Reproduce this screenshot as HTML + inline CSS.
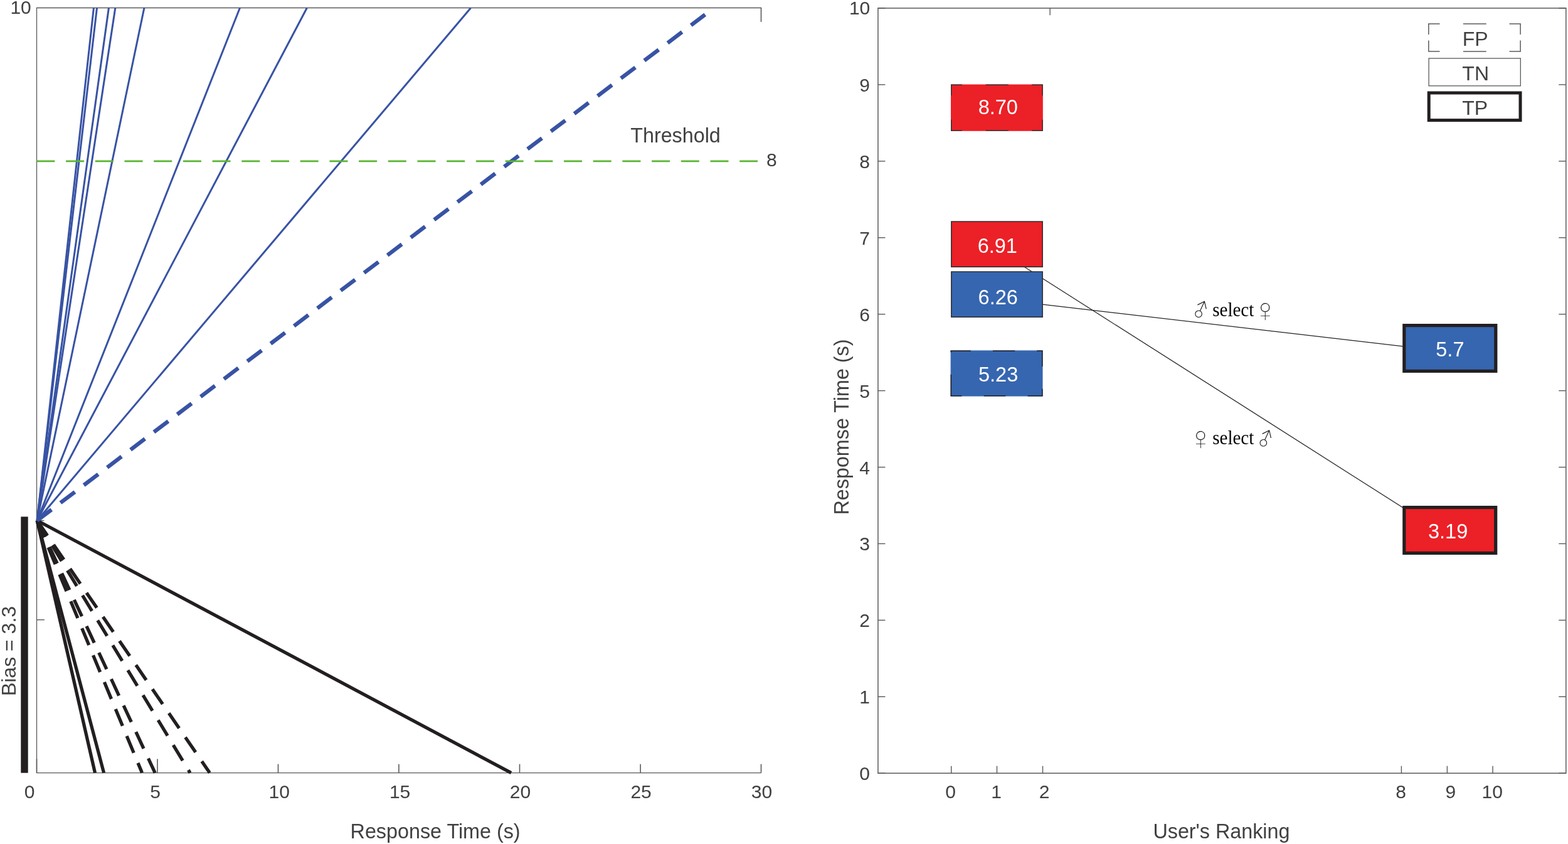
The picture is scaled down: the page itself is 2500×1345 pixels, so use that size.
<!DOCTYPE html>
<html><head><meta charset="utf-8"><title>Response time figure</title>
<style>
html,body{margin:0;padding:0;background:#fff;}
body{width:2500px;height:1345px;overflow:hidden;}
svg{display:block;}
text{font-kerning:normal;}
</style></head>
<body>
<svg width="2500" height="1345" viewBox="0 0 2500 1345">
<rect width="2500" height="1345" fill="#fff"/>
<rect x="33.3" y="823.4" width="11.4" height="408.3" fill="#231f20"/>
<path d="M58.5 1231.6 V12.5 H1213.5" fill="none" stroke="#58595b" stroke-width="1.3"/>
<line x1="57.90" y1="1231.60" x2="1213.50" y2="1231.60" stroke="#58595b" stroke-width="1.3" />
<line x1="58.50" y1="1231.60" x2="58.50" y2="1209.40" stroke="#58595b" stroke-width="1.6" />
<line x1="251.00" y1="1231.60" x2="251.00" y2="1209.40" stroke="#58595b" stroke-width="1.6" />
<line x1="443.50" y1="1231.60" x2="443.50" y2="1217.70" stroke="#58595b" stroke-width="1.6" />
<line x1="635.90" y1="1231.60" x2="635.90" y2="1217.70" stroke="#58595b" stroke-width="1.6" />
<line x1="828.50" y1="1231.60" x2="828.50" y2="1217.70" stroke="#58595b" stroke-width="1.6" />
<line x1="1021.10" y1="1231.60" x2="1021.10" y2="1217.70" stroke="#58595b" stroke-width="1.6" />
<line x1="1213.50" y1="1231.60" x2="1213.50" y2="1217.70" stroke="#58595b" stroke-width="1.6" />
<line x1="1213.50" y1="11.90" x2="1213.50" y2="34.90" stroke="#58595b" stroke-width="1.6" />
<line x1="58.50" y1="987.70" x2="70.90" y2="987.70" stroke="#58595b" stroke-width="1.4" />
<line x1="58.50" y1="829.50" x2="70.30" y2="829.50" stroke="#58595b" stroke-width="1.4" />
<g fill="none">
<line x1="59.20" y1="829.50" x2="151.50" y2="1231.60" stroke="#231f20" stroke-width="5.3" />
<line x1="59.20" y1="829.50" x2="165.60" y2="1231.60" stroke="#231f20" stroke-width="5.3" />
<line x1="59.20" y1="829.50" x2="815.00" y2="1231.60" stroke="#231f20" stroke-width="5.3" />
<line x1="59.20" y1="829.50" x2="226.50" y2="1231.60" stroke="#231f20" stroke-width="5.3" stroke-dasharray="29 17.5"/>
<line x1="59.20" y1="829.50" x2="247.20" y2="1231.60" stroke="#231f20" stroke-width="5.3" stroke-dasharray="29 17.5"/>
<line x1="59.20" y1="829.50" x2="303.10" y2="1231.60" stroke="#231f20" stroke-width="5.3" stroke-dasharray="29 17.5"/>
<line x1="59.20" y1="829.50" x2="334.30" y2="1231.60" stroke="#231f20" stroke-width="5.3" stroke-dasharray="29 17.5"/>
<line x1="59.20" y1="829.50" x2="149.40" y2="12.80" stroke="#3853a4" stroke-width="3.0" />
<line x1="59.20" y1="829.50" x2="154.50" y2="12.80" stroke="#3853a4" stroke-width="3.0" />
<line x1="59.20" y1="829.50" x2="173.40" y2="12.80" stroke="#3853a4" stroke-width="3.0" />
<line x1="59.20" y1="829.50" x2="183.80" y2="12.80" stroke="#3853a4" stroke-width="3.0" />
<line x1="59.20" y1="829.50" x2="229.90" y2="12.80" stroke="#3853a4" stroke-width="3.0" />
<line x1="59.20" y1="829.50" x2="382.40" y2="12.80" stroke="#3853a4" stroke-width="3.0" />
<line x1="59.20" y1="829.50" x2="489.30" y2="12.80" stroke="#3853a4" stroke-width="3.0" />
<line x1="59.20" y1="829.50" x2="750.50" y2="12.80" stroke="#3853a4" stroke-width="3.0" />
<line x1="59.20" y1="829.50" x2="1124.20" y2="23.20" stroke="#3853a4" stroke-width="6.3" stroke-dasharray="28.8 17.9"/>
<line x1="58.40" y1="256.90" x2="1208.00" y2="256.90" stroke="#58b530" stroke-width="2.8" stroke-dasharray="29 17.7"/>
</g>
<text x="47.10" y="1271.90" font-size="30" fill="#414042" text-anchor="middle" font-family="'Liberation Sans', Arial, Helvetica, sans-serif" >0</text>
<text x="247.50" y="1271.90" font-size="30" fill="#414042" text-anchor="middle" font-family="'Liberation Sans', Arial, Helvetica, sans-serif" >5</text>
<text x="445.20" y="1271.90" font-size="30" fill="#414042" text-anchor="middle" font-family="'Liberation Sans', Arial, Helvetica, sans-serif" >10</text>
<text x="637.60" y="1271.90" font-size="30" fill="#414042" text-anchor="middle" font-family="'Liberation Sans', Arial, Helvetica, sans-serif" >15</text>
<text x="829.50" y="1271.90" font-size="30" fill="#414042" text-anchor="middle" font-family="'Liberation Sans', Arial, Helvetica, sans-serif" >20</text>
<text x="1022.10" y="1271.90" font-size="30" fill="#414042" text-anchor="middle" font-family="'Liberation Sans', Arial, Helvetica, sans-serif" >25</text>
<text x="1214.40" y="1271.90" font-size="30" fill="#414042" text-anchor="middle" font-family="'Liberation Sans', Arial, Helvetica, sans-serif" >30</text>
<text x="49.80" y="21.80" font-size="30" fill="#414042" text-anchor="end" font-family="'Liberation Sans', Arial, Helvetica, sans-serif" >10</text>
<text x="1230.30" y="265.40" font-size="30" fill="#414042" text-anchor="middle" font-family="'Liberation Sans', Arial, Helvetica, sans-serif" >8</text>
<text x="1077.00" y="227.10" font-size="32.3" fill="#414042" text-anchor="middle" font-family="'Liberation Sans', Arial, Helvetica, sans-serif" >Threshold</text>
<text x="694.10" y="1335.70" font-size="32.3" fill="#414042" text-anchor="middle" font-family="'Liberation Sans', Arial, Helvetica, sans-serif" >Response Time (s)</text>
<text transform="translate(25.3 1037.5) rotate(-90)" font-size="32" fill="#414042" text-anchor="middle" font-family="'Liberation Sans', Arial, Helvetica, sans-serif">Bias = 3.3</text>
<rect x="1399.9" y="13.0" width="1096.9" height="1219.2" fill="none" stroke="#58595b" stroke-width="1.5"/>
<line x1="1399.90" y1="1232.20" x2="1411.40" y2="1232.20" stroke="#58595b" stroke-width="1.4" />
<line x1="2496.80" y1="1232.20" x2="2485.30" y2="1232.20" stroke="#58595b" stroke-width="1.4" />
<text x="1387.00" y="1243.20" font-size="30" fill="#414042" text-anchor="end" font-family="'Liberation Sans', Arial, Helvetica, sans-serif" >0</text>
<line x1="1399.90" y1="1110.28" x2="1411.40" y2="1110.28" stroke="#58595b" stroke-width="1.4" />
<line x1="2496.80" y1="1110.28" x2="2485.30" y2="1110.28" stroke="#58595b" stroke-width="1.4" />
<text x="1387.00" y="1121.28" font-size="30" fill="#414042" text-anchor="end" font-family="'Liberation Sans', Arial, Helvetica, sans-serif" >1</text>
<line x1="1399.90" y1="988.36" x2="1411.40" y2="988.36" stroke="#58595b" stroke-width="1.4" />
<line x1="2496.80" y1="988.36" x2="2485.30" y2="988.36" stroke="#58595b" stroke-width="1.4" />
<text x="1387.00" y="999.36" font-size="30" fill="#414042" text-anchor="end" font-family="'Liberation Sans', Arial, Helvetica, sans-serif" >2</text>
<line x1="1399.90" y1="866.44" x2="1411.40" y2="866.44" stroke="#58595b" stroke-width="1.4" />
<line x1="2496.80" y1="866.44" x2="2485.30" y2="866.44" stroke="#58595b" stroke-width="1.4" />
<text x="1387.00" y="877.44" font-size="30" fill="#414042" text-anchor="end" font-family="'Liberation Sans', Arial, Helvetica, sans-serif" >3</text>
<line x1="1399.90" y1="744.52" x2="1411.40" y2="744.52" stroke="#58595b" stroke-width="1.4" />
<line x1="2496.80" y1="744.52" x2="2485.30" y2="744.52" stroke="#58595b" stroke-width="1.4" />
<text x="1387.00" y="755.52" font-size="30" fill="#414042" text-anchor="end" font-family="'Liberation Sans', Arial, Helvetica, sans-serif" >4</text>
<line x1="1399.90" y1="622.60" x2="1411.40" y2="622.60" stroke="#58595b" stroke-width="1.4" />
<line x1="2496.80" y1="622.60" x2="2485.30" y2="622.60" stroke="#58595b" stroke-width="1.4" />
<text x="1387.00" y="633.60" font-size="30" fill="#414042" text-anchor="end" font-family="'Liberation Sans', Arial, Helvetica, sans-serif" >5</text>
<line x1="1399.90" y1="500.68" x2="1411.40" y2="500.68" stroke="#58595b" stroke-width="1.4" />
<line x1="2496.80" y1="500.68" x2="2485.30" y2="500.68" stroke="#58595b" stroke-width="1.4" />
<text x="1387.00" y="511.68" font-size="30" fill="#414042" text-anchor="end" font-family="'Liberation Sans', Arial, Helvetica, sans-serif" >6</text>
<line x1="1399.90" y1="378.76" x2="1411.40" y2="378.76" stroke="#58595b" stroke-width="1.4" />
<line x1="2496.80" y1="378.76" x2="2485.30" y2="378.76" stroke="#58595b" stroke-width="1.4" />
<text x="1387.00" y="389.76" font-size="30" fill="#414042" text-anchor="end" font-family="'Liberation Sans', Arial, Helvetica, sans-serif" >7</text>
<line x1="1399.90" y1="256.84" x2="1411.40" y2="256.84" stroke="#58595b" stroke-width="1.4" />
<line x1="2496.80" y1="256.84" x2="2485.30" y2="256.84" stroke="#58595b" stroke-width="1.4" />
<text x="1387.00" y="267.84" font-size="30" fill="#414042" text-anchor="end" font-family="'Liberation Sans', Arial, Helvetica, sans-serif" >8</text>
<line x1="1399.90" y1="134.92" x2="1411.40" y2="134.92" stroke="#58595b" stroke-width="1.4" />
<line x1="2496.80" y1="134.92" x2="2485.30" y2="134.92" stroke="#58595b" stroke-width="1.4" />
<text x="1387.00" y="145.92" font-size="30" fill="#414042" text-anchor="end" font-family="'Liberation Sans', Arial, Helvetica, sans-serif" >9</text>
<line x1="1399.90" y1="13.00" x2="1411.40" y2="13.00" stroke="#58595b" stroke-width="1.4" />
<line x1="2496.80" y1="13.00" x2="2485.30" y2="13.00" stroke="#58595b" stroke-width="1.4" />
<text x="1387.30" y="22.90" font-size="30" fill="#414042" text-anchor="end" font-family="'Liberation Sans', Arial, Helvetica, sans-serif" >10</text>
<line x1="1516.70" y1="1232.20" x2="1516.70" y2="1220.70" stroke="#58595b" stroke-width="1.4" />
<line x1="1589.50" y1="1232.20" x2="1589.50" y2="1220.70" stroke="#58595b" stroke-width="1.4" />
<line x1="1662.50" y1="1232.20" x2="1662.50" y2="1220.70" stroke="#58595b" stroke-width="1.4" />
<line x1="2234.40" y1="1232.20" x2="2234.40" y2="1220.70" stroke="#58595b" stroke-width="1.4" />
<line x1="2307.40" y1="1232.20" x2="2307.40" y2="1220.70" stroke="#58595b" stroke-width="1.4" />
<line x1="2380.00" y1="1232.20" x2="2380.00" y2="1220.70" stroke="#58595b" stroke-width="1.4" />
<line x1="1674.10" y1="13.00" x2="1674.10" y2="24.20" stroke="#58595b" stroke-width="1.4" />
<text x="1515.60" y="1271.90" font-size="30" fill="#414042" text-anchor="middle" font-family="'Liberation Sans', Arial, Helvetica, sans-serif" >0</text>
<text x="1588.50" y="1271.90" font-size="30" fill="#414042" text-anchor="middle" font-family="'Liberation Sans', Arial, Helvetica, sans-serif" >1</text>
<text x="1665.20" y="1271.90" font-size="30" fill="#414042" text-anchor="middle" font-family="'Liberation Sans', Arial, Helvetica, sans-serif" >2</text>
<text x="2233.50" y="1271.90" font-size="30" fill="#414042" text-anchor="middle" font-family="'Liberation Sans', Arial, Helvetica, sans-serif" >8</text>
<text x="2312.90" y="1271.90" font-size="30" fill="#414042" text-anchor="middle" font-family="'Liberation Sans', Arial, Helvetica, sans-serif" >9</text>
<text x="2379.20" y="1271.90" font-size="30" fill="#414042" text-anchor="middle" font-family="'Liberation Sans', Arial, Helvetica, sans-serif" >10</text>
<text x="1947.40" y="1335.80" font-size="32.3" fill="#414042" text-anchor="middle" font-family="'Liberation Sans', Arial, Helvetica, sans-serif" >User's Ranking</text>
<text transform="translate(1353.0 680.5) rotate(-90)" font-size="32.3" fill="#414042" text-anchor="middle" font-family="'Liberation Sans', Arial, Helvetica, sans-serif">Respomse Time (s)</text>
<line x1="1589.50" y1="397.50" x2="2311.70" y2="856.60" stroke="#231f20" stroke-width="1.2" />
<line x1="1600.00" y1="477.90" x2="2300.00" y2="559.30" stroke="#231f20" stroke-width="1.2" />
<text transform="translate(1909.7 503.3) rotate(25)" font-size="34" fill="#231f20" text-anchor="middle" font-family="'NanumGothic', 'DejaVu Sans', sans-serif">♂</text>
<text x="1933.3" y="503.9" font-size="31" fill="#000" font-family="'Liberation Serif', 'Times New Roman', serif" textLength="66" lengthAdjust="spacingAndGlyphs">select</text>
<text x="2017.2" y="508.6" font-size="35" fill="#231f20" stroke="#fff" stroke-width="0.85" text-anchor="middle" font-family="'WenQuanYi Zen Hei', 'DejaVu Sans', sans-serif">♀</text>
<text x="1914.3" y="713.1" font-size="35" fill="#231f20" stroke="#fff" stroke-width="0.85" text-anchor="middle" font-family="'WenQuanYi Zen Hei', 'DejaVu Sans', sans-serif">♀</text>
<text x="1933.3" y="708.4" font-size="31" fill="#000" font-family="'Liberation Serif', 'Times New Roman', serif" textLength="66" lengthAdjust="spacingAndGlyphs">select</text>
<text transform="translate(2013.0 708.8) rotate(25)" font-size="34" fill="#231f20" text-anchor="middle" font-family="'NanumGothic', 'DejaVu Sans', sans-serif">♂</text>
<rect x="1516.0" y="134.5" width="146.8" height="74.3" fill="#ec2027"/>
<line x1="1516.00" y1="135.25" x2="1533.80" y2="135.25" stroke="#333335" stroke-width="1.5" />
<line x1="1571.70" y1="135.25" x2="1607.80" y2="135.25" stroke="#333335" stroke-width="1.5" />
<line x1="1645.00" y1="135.25" x2="1662.80" y2="135.25" stroke="#333335" stroke-width="1.5" />
<line x1="1516.00" y1="208.05" x2="1533.80" y2="208.05" stroke="#333335" stroke-width="1.5" />
<line x1="1571.70" y1="208.05" x2="1607.80" y2="208.05" stroke="#333335" stroke-width="1.5" />
<line x1="1645.00" y1="208.05" x2="1662.80" y2="208.05" stroke="#333335" stroke-width="1.5" />
<line x1="1516.75" y1="135.25" x2="1516.75" y2="152.30" stroke="#333335" stroke-width="1.5" />
<line x1="1516.75" y1="190.60" x2="1516.75" y2="208.05" stroke="#333335" stroke-width="1.5" />
<line x1="1662.05" y1="135.25" x2="1662.05" y2="152.30" stroke="#333335" stroke-width="1.5" />
<line x1="1662.05" y1="190.60" x2="1662.05" y2="208.05" stroke="#333335" stroke-width="1.5" />
<rect x="1516.85" y="353.05" width="145.30" height="72.25" fill="#ec2027" stroke="#2a2a2c" stroke-width="1.5"/>
<rect x="1516.85" y="433.05" width="145.30" height="72.20" fill="#3666b0" stroke="#2a2a2c" stroke-width="1.5"/>
<rect x="1515.6" y="558.4" width="146.9" height="73.2" fill="#3666b0"/>
<line x1="1515.60" y1="559.15" x2="1547.80" y2="559.15" stroke="#231f20" stroke-width="1.5" />
<line x1="1582.90" y1="559.15" x2="1618.20" y2="559.15" stroke="#231f20" stroke-width="1.5" />
<line x1="1653.20" y1="559.15" x2="1662.50" y2="559.15" stroke="#231f20" stroke-width="1.5" />
<line x1="1515.60" y1="630.85" x2="1533.40" y2="630.85" stroke="#231f20" stroke-width="1.5" />
<line x1="1568.80" y1="630.85" x2="1603.30" y2="630.85" stroke="#231f20" stroke-width="1.5" />
<line x1="1638.70" y1="630.85" x2="1662.50" y2="630.85" stroke="#231f20" stroke-width="1.5" />
<line x1="1516.35" y1="559.15" x2="1516.35" y2="561.40" stroke="#231f20" stroke-width="1.5" />
<line x1="1516.35" y1="596.80" x2="1516.35" y2="630.85" stroke="#231f20" stroke-width="1.5" />
<line x1="1661.75" y1="559.15" x2="1661.75" y2="584.00" stroke="#231f20" stroke-width="1.5" />
<line x1="1661.75" y1="619.70" x2="1661.75" y2="630.85" stroke="#231f20" stroke-width="1.5" />
<rect x="2238.80" y="518.60" width="146.00" height="72.80" fill="#3666b0" stroke="#231f20" stroke-width="5.2"/>
<rect x="2238.80" y="808.60" width="145.90" height="72.80" fill="#ec2027" stroke="#231f20" stroke-width="5.2"/>
<text x="1591.30" y="181.60" font-size="32.5" fill="#fff" text-anchor="middle" font-family="'Liberation Sans', Arial, Helvetica, sans-serif" >8.70</text>
<text x="1590.30" y="402.90" font-size="32.5" fill="#fff" text-anchor="middle" font-family="'Liberation Sans', Arial, Helvetica, sans-serif" >6.91</text>
<text x="1591.20" y="485.20" font-size="32.5" fill="#fff" text-anchor="middle" font-family="'Liberation Sans', Arial, Helvetica, sans-serif" >6.26</text>
<text x="1591.60" y="607.50" font-size="32.5" fill="#fff" text-anchor="middle" font-family="'Liberation Sans', Arial, Helvetica, sans-serif" >5.23</text>
<text x="2311.90" y="568.30" font-size="32.5" fill="#fff" text-anchor="middle" font-family="'Liberation Sans', Arial, Helvetica, sans-serif" >5.7</text>
<text x="2308.60" y="858.00" font-size="32.5" fill="#fff" text-anchor="middle" font-family="'Liberation Sans', Arial, Helvetica, sans-serif" >3.19</text>
<line x1="2277.05" y1="38.00" x2="2295.50" y2="38.00" stroke="#58595b" stroke-width="1.5" />
<line x1="2332.90" y1="38.00" x2="2369.70" y2="38.00" stroke="#58595b" stroke-width="1.5" />
<line x1="2406.50" y1="38.00" x2="2424.85" y2="38.00" stroke="#58595b" stroke-width="1.5" />
<line x1="2277.05" y1="81.90" x2="2295.50" y2="81.90" stroke="#58595b" stroke-width="1.5" />
<line x1="2332.90" y1="81.90" x2="2369.70" y2="81.90" stroke="#58595b" stroke-width="1.5" />
<line x1="2406.50" y1="81.90" x2="2424.85" y2="81.90" stroke="#58595b" stroke-width="1.5" />
<line x1="2277.80" y1="38.00" x2="2277.80" y2="55.10" stroke="#58595b" stroke-width="1.5" />
<line x1="2277.80" y1="64.50" x2="2277.80" y2="81.90" stroke="#58595b" stroke-width="1.5" />
<line x1="2424.10" y1="38.00" x2="2424.10" y2="55.10" stroke="#58595b" stroke-width="1.5" />
<line x1="2424.10" y1="64.50" x2="2424.10" y2="81.90" stroke="#58595b" stroke-width="1.5" />
<text x="2352.20" y="72.50" font-size="32" fill="#414042" text-anchor="middle" font-family="'Liberation Sans', Arial, Helvetica, sans-serif" >FP</text>
<rect x="2278.10" y="93.00" width="146.20" height="43.80" fill="none" stroke="#58595b" stroke-width="1.3"/>
<text x="2352.70" y="128.00" font-size="32" fill="#414042" text-anchor="middle" font-family="'Liberation Sans', Arial, Helvetica, sans-serif" >TN</text>
<rect x="2278.20" y="148.00" width="145.80" height="43.60" fill="none" stroke="#231f20" stroke-width="5.0"/>
<text x="2351.60" y="182.90" font-size="32" fill="#414042" text-anchor="middle" font-family="'Liberation Sans', Arial, Helvetica, sans-serif" >TP</text>
</svg>
</body></html>
